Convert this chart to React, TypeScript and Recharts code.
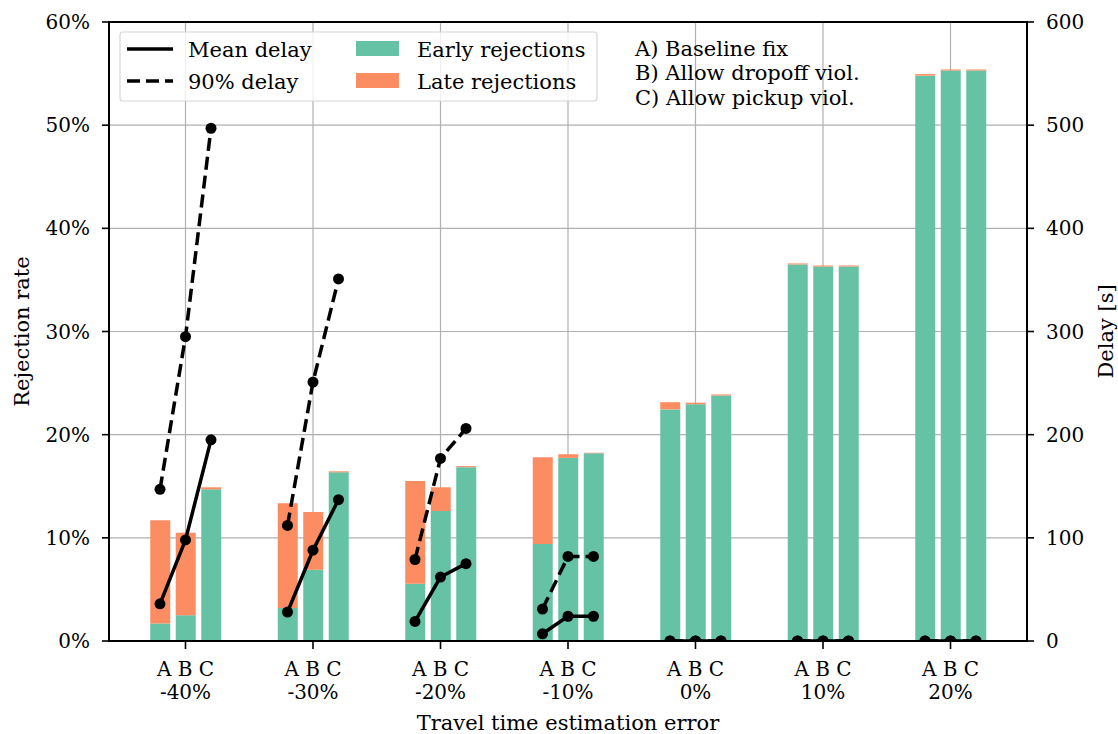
import React from 'react';
import {
  ComposedChart,
  Bar,
  Line,
  XAxis,
  YAxis,
  CartesianGrid,
} from 'recharts';

const groups = ['-40%', '-30%', '-20%', '-10%', '0%', '10%', '20%'];
const variants = ['A', 'B', 'C'];
const variantOffsets = [-0.2, 0, 0.2];

// rejection rates in percent, one row per group: [A, B, C]
const earlyRate = [
  [1.7, 2.5, 14.7],
  [3.2, 6.9, 16.35],
  [5.55, 12.6, 16.85],
  [9.4, 17.75, 18.2],
  [22.45, 22.95, 23.8],
  [36.5, 36.3, 36.3],
  [54.8, 55.3, 55.3],
];
const lateRate = [
  [10.0, 8.0, 0.2],
  [10.15, 5.6, 0.1],
  [9.95, 2.3, 0.1],
  [8.4, 0.35, 0.05],
  [0.7, 0.15, 0.1],
  [0.1, 0.1, 0.1],
  [0.15, 0.1, 0.1],
];

// delays in seconds
const meanDelay = [
  [36, 98, 195],
  [28, 88, 137],
  [19, 62, 75],
  [7, 24, 24],
  [0, 0, 0],
  [0, 0, 0],
  [0, 0, 0],
];
const p90Delay = [
  [147, 295, 497],
  [112, 251, 351],
  [79, 177, 206],
  [31, 82, 82],
  [0, 0, 0],
  [0, 0, 0],
  [0, 0, 0],
];

const rateTicks = [0, 10, 20, 30, 40, 50, 60];
const delayTicks = [0, 100, 200, 300, 400, 500, 600];
const legendRows = [
  'A) Baseline fix',
  'B) Allow dropoff viol.',
  'C) Allow pickup viol.',
];

const EARLY = '#66c2a5';
const LATE = '#fc8d62';
const FONT = '"DejaVu Serif", serif';
const TEXT = 21;
const TICK = 20;

// flat table: one row per bar, a null row between groups so lines break
const data: any[] = [];
groups.forEach((g, gi) => {
  variants.forEach((v, vi) => {
    data.push({
      x: gi + variantOffsets[vi],
      early: earlyRate[gi][vi],
      late: lateRate[gi][vi],
      mean: meanDelay[gi][vi],
      p90: p90Delay[gi][vi],
    });
  });
  if (gi < groups.length - 1) {
    data.push({ x: gi + 0.5, early: null, late: null, mean: null, p90: null });
  }
});

const W = 1118;
const H = 734;
const plot = { left: 109, right: 1027, top: 22, bottom: 641 };

function GroupTick({ x, y, payload }: any) {
  const label = groups[payload.value];
  if (label === undefined) return null;
  return (
    <g>
      <text x={x} y={y} dy={27} textAnchor="middle" fontSize={TICK} fontFamily={FONT} fill="#000">
        {variants.join(' ')}
      </text>
      <text x={x} y={y} dy={50} textAnchor="middle" fontSize={TICK} fontFamily={FONT} fill="#000">
        {label}
      </text>
    </g>
  );
}

function Overlay() {
  const cy = (plot.top + plot.bottom) / 2;
  return (
    <svg
      width={W}
      height={H}
      style={{ position: 'absolute', left: 0, top: 0, pointerEvents: 'none' }}
      fontFamily={FONT}
    >
      <rect
        x={plot.left}
        y={plot.top}
        width={plot.right - plot.left}
        height={plot.bottom - plot.top}
        fill="none"
        stroke="#000"
        strokeWidth={2}
      />
      {/* legend */}
      <rect x={120} y={32} width={477} height={69} rx={3} fill="#fff" fillOpacity={0.8} stroke="#d6d6d6" strokeWidth={1.2} />
      <line x1={127} x2={173} y1={49} y2={49} stroke="#000" strokeWidth={3.5} />
      <line x1={127} x2={173} y1={81} y2={81} stroke="#000" strokeWidth={3.5} strokeDasharray="13 6" />
      <text x={188} y={56.5} fontSize={TEXT} fill="#000">Mean delay</text>
      <text x={188} y={88.5} fontSize={TEXT} fill="#000">90% delay</text>
      <rect x={356} y={41} width={43} height={15} fill={EARLY} />
      <rect x={356} y={73} width={43} height={15} fill={LATE} />
      <text x={417} y={56.5} fontSize={TEXT} fill="#000">Early rejections</text>
      <text x={417} y={88.5} fontSize={TEXT} fill="#000">Late rejections</text>
      {/* variant key */}
      {legendRows.map((t, i) => (
        <text key={t} x={635} y={55.5 + i * 24.5} fontSize={TEXT} fill="#000">
          {t}
        </text>
      ))}
      {/* axis titles */}
      <text x={(plot.left + plot.right) / 2} y={730} textAnchor="middle" fontSize={TEXT} fill="#000">
        Travel time estimation error
      </text>
      <text
        transform={`translate(29 ${cy}) rotate(-90)`}
        textAnchor="middle"
        fontSize={TEXT}
        fill="#000"
      >
        Rejection rate
      </text>
      <text
        transform={`translate(1113 ${cy}) rotate(-90)`}
        textAnchor="middle"
        fontSize={TEXT}
        fill="#000"
      >
        Delay [s]
      </text>
    </svg>
  );
}

export default function App() {
  const tickStyle = { fill: '#000', fontSize: TICK, fontFamily: FONT };
  return (
    <div style={{ position: 'absolute', left: 0, top: 0, width: W, height: H, background: '#fff' }}>
      <ComposedChart
        width={W}
        height={H}
        data={data}
        margin={{ top: plot.top, right: 0, bottom: 0, left: 0 }}
      >
        <CartesianGrid yAxisId="rate" stroke="#b0b0b0" strokeWidth={1.2} />
        <XAxis
          dataKey="x"
          type="number"
          domain={[-0.6, 6.6]}
          ticks={[0, 1, 2, 3, 4, 5, 6]}
          allowDataOverflow
          height={H - plot.bottom}
          tickSize={8}
          tickMargin={0}
          axisLine={false}
          tickLine={{ stroke: '#000', strokeWidth: 1.6 }}
          tick={<GroupTick />}
          interval={0}
        />
        <YAxis
          yAxisId="rate"
          domain={[0, 60]}
          ticks={rateTicks}
          allowDataOverflow
          width={plot.left}
          tickSize={7}
          tickMargin={12}
          axisLine={false}
          tickLine={{ stroke: '#000', strokeWidth: 1.6 }}
          tick={tickStyle}
          tickFormatter={(v: number) => `${v}%`}
          interval={0}
        />
        <YAxis
          yAxisId="delay"
          orientation="right"
          domain={[0, 600]}
          ticks={delayTicks}
          allowDataOverflow
          width={W - plot.right}
          tickSize={7}
          tickMargin={12}
          axisLine={false}
          tickLine={{ stroke: '#000', strokeWidth: 1.6 }}
          tick={{ ...tickStyle, textAnchor: 'start' }}
          interval={0}
        />
        <Bar yAxisId="rate" dataKey="early" stackId="r" fill={EARLY} barSize={20} isAnimationActive={false} />
        <Bar yAxisId="rate" dataKey="late" stackId="r" fill={LATE} barSize={20} isAnimationActive={false} />
        <Line
          yAxisId="delay"
          dataKey="mean"
          stroke="#000"
          strokeWidth={3.5}
          dot={{ r: 5.5, fill: '#000', stroke: '#000', strokeWidth: 0 }}
          activeDot={false}
          isAnimationActive={false}
        />
        <Line
          yAxisId="delay"
          dataKey="p90"
          stroke="#000"
          strokeWidth={3.5}
          strokeDasharray="13 6"
          dot={{ r: 5.5, fill: '#000', stroke: '#000', strokeWidth: 0 }}
          activeDot={false}
          isAnimationActive={false}
        />
      </ComposedChart>
      <Overlay />
    </div>
  );
}
